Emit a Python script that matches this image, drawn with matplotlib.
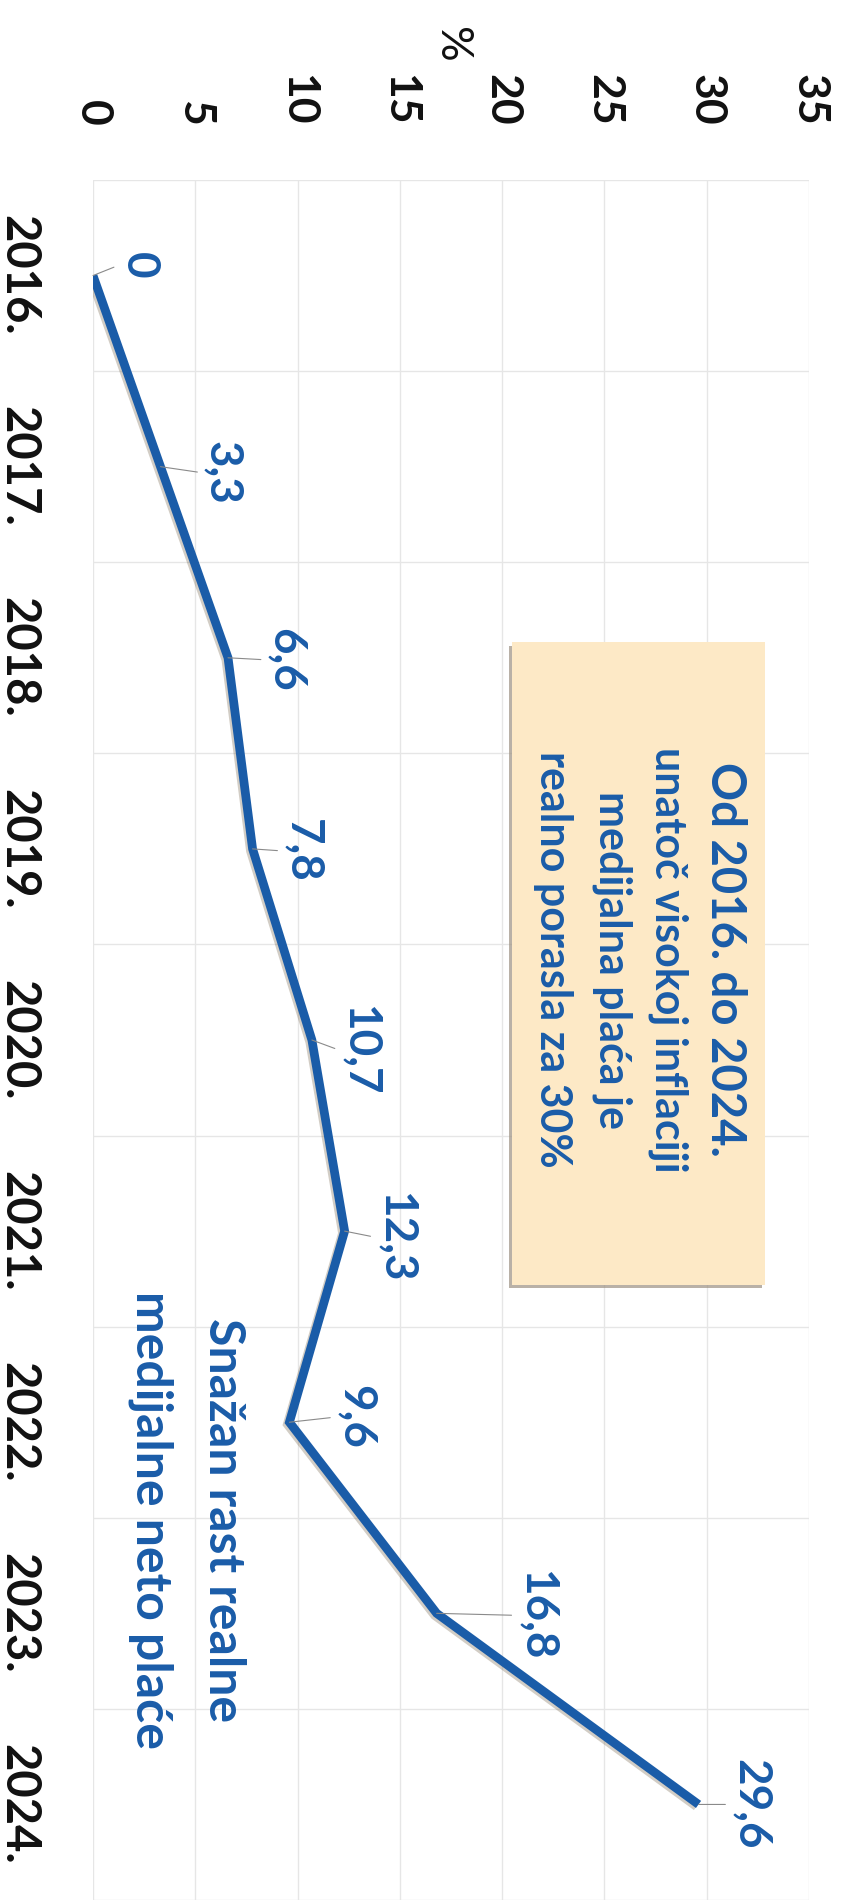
import matplotlib
matplotlib.use("Agg")
import matplotlib.pyplot as plt
import matplotlib.patheffects as pe
from matplotlib.patches import Rectangle

# ---------------- data ----------------
years = ["2016.", "2017.", "2018.", "2019.", "2020.", "2021.", "2022.", "2023.", "2024."]
growth = [0, 3.3, 6.6, 7.8, 10.7, 12.3, 9.6, 16.8, 29.6]
growth_labels = ["0", "3,3", "6,6", "7,8", "10,7", "12,3", "9,6", "16,8", "29,6"]
pct_ticks = [0, 5, 10, 15, 20, 25, 30, 35]
pct_tick_labels = ["0", "5", "10", "15", "20", "25", "30", "35"]
box_lines = ["Od 2016. do 2024.", "unatoč visokoj inflaciji",
             "medijalna plaća je", "realno porasla za 30%"]
note_lines = ["Snažan rast realne", "medijalne neto plaće"]

# ---------------- layout / style ----------------
# label offsets in pixels: (right, down)
label_offsets = [(46, -10), (62, 6), (58, 2), (50, 2), (48, 10),
                 (51, 6), (66, -5), (100, 2), (52, 0)]

W, H = 846, 1900
plt.rcParams['font.family'] = ['Lato', 'DejaVu Sans']
BLUE = '#1a5ca8'
GRID = '#e6e6e6'

fig = plt.figure(figsize=(W / 100, H / 100), dpi=100)
fig.patch.set_facecolor('white')
ax = fig.add_axes([93 / W, 0, (809 - 93) / W, 1 - 180 / H])

pos = list(range(len(years)))
ax.plot(growth, pos, color=BLUE, lw=6.3, solid_joinstyle='miter',
        solid_capstyle='butt', zorder=3,
        path_effects=[pe.SimpleLineShadow(offset=(-1.5, -1.5), shadow_color='#6b5a40', alpha=0.3),
                      pe.Normal()])

ax.set_xlim(0, 35)
ax.set_ylim(len(years) - 0.5, -0.5)

ax.xaxis.tick_top()
ax.set_xticks(pct_ticks)
ax.set_xticklabels(pct_tick_labels)
ax.set_yticks(pos)
ax.set_yticklabels(years)
ax.set_yticks([p - 0.5 for p in range(len(years) + 1)], minor=True)

ax.set_axisbelow(True)
ax.xaxis.grid(True, which='major', color=GRID, lw=1.0)
ax.yaxis.grid(True, which='minor', color=GRID, lw=1.0)
ax.yaxis.grid(False, which='major')

ax.tick_params(axis='x', which='both', length=0, pad=39, labelrotation=-90,
               labelsize=32, labelcolor='#111111')
ax.tick_params(axis='y', which='both', length=0, pad=38, labelrotation=-90,
               labelsize=34, labelcolor='#111111')
for lbl in ax.get_xticklabels() + ax.get_yticklabels():
    lbl.set_fontweight('bold')
for lbl in ax.get_yticklabels():
    lbl.set_verticalalignment('center')

ax.xaxis.set_label_position('top')
ax.set_xlabel('%', rotation=-90, fontsize=32, labelpad=14, color='#111111')

for s in ax.spines.values():
    s.set_visible(False)

# data labels with leader lines
for i, (v, lab) in enumerate(zip(growth, growth_labels)):
    dx, dy = label_offsets[i]
    ax.annotate(lab, xy=(v, i), xytext=(dx, -dy), textcoords='offset pixels',
                rotation=-90, ha='center', va='center', fontsize=33,
                fontweight='bold', color=BLUE, zorder=5,
                arrowprops=dict(arrowstyle='-', color='#8a8a8a', lw=0.8,
                                shrinkA=1, shrinkB=0, relpos=(0, 0.5)))

# annotation box (data coordinates)
bx0, bx1 = 20.48, 32.84
by0, by1 = 1.92, 5.28
shadow = Rectangle((bx0 - 0.15, by0 + 0.016), bx1 - bx0, by1 - by0,
                   facecolor='#9c9182', edgecolor='none', alpha=0.7, zorder=2)
ax.add_patch(shadow)
box = Rectangle((bx0, by0), bx1 - bx0, by1 - by0,
                facecolor='#fde9c6', edgecolor='none', zorder=2.1)
ax.add_patch(box)

box_x = [30.89, 28.11, 25.37, 22.48]
box_sizes = [34, 31, 31, 31]
for xline, txt, fs in zip(box_x, box_lines, box_sizes):
    ax.text(xline, 3.58, txt, rotation=-90, ha='center', va='center',
            fontsize=fs, fontweight='bold', color=BLUE, zorder=6)

note_x = [6.40, 2.83]
for xline, txt in zip(note_x, note_lines):
    ax.text(xline, 6.51, txt, rotation=-90, ha='center', va='center',
            fontsize=36, fontweight='bold', color=BLUE, zorder=6)

fig.savefig('out.png', dpi=100, facecolor='white')
